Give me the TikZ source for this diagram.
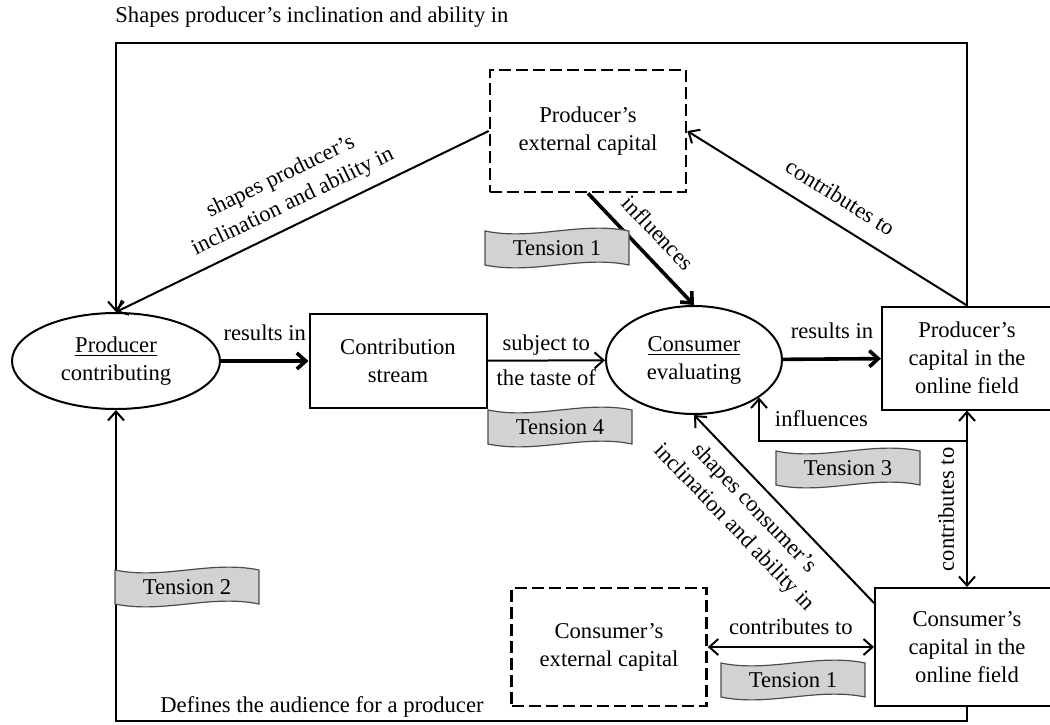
\documentclass[tikz,border=0pt]{standalone}
\usepackage{fontspec}
\setmainfont{Liberation Serif}
\usetikzlibrary{shapes.geometric,arrows.meta}

\tikzset{
  box/.style={draw, line width=1pt, align=center, inner sep=0pt},
  extbox/.style={box, dash pattern=on 6pt off 2.5pt, line width=1.3pt},
  oval/.style={ellipse, draw, line width=1pt, align=center, inner sep=0pt},
  arr/.style={-{Straight Barb[length=4.5pt,width=8pt]}, line width=1pt},
  backarr/.style={{Straight Barb[length=4.5pt,width=8pt]}-, line width=1pt},
  duoarr/.style={{Straight Barb[length=4.5pt,width=8pt]}-{Straight Barb[length=4.5pt,width=8pt]}, line width=1pt},
  boldarr/.style={arr, line width=1.8pt},
  lbl/.style={inner sep=1pt, align=center},
  flag/.style={fill=gray!35, draw=gray!60!black, line width=0.6pt}
}

%% wavy banner with a label
\newcommand{\tensionflag}[3]{%
  \begin{scope}[shift={#2}]
    \filldraw [flag] (-72,-17) .. controls (-24,-7) and (24,-27) .. (72,-17)
      -- (72,17) .. controls (24,7) and (-24,27) .. (-72,17) -- cycle;
    \node [lbl] (#1) at (0,0) {#3};
  \end{scope}}

\begin{document}
\begin{tikzpicture}[x=0.5pt, y=-0.5pt, font=\fontsize{11.3pt}{14pt}\selectfont]
            \useasboundingbox (0,0) rectangle (1050,724);

            %% noeuds principaux
            \node [oval, minimum width=104pt, minimum height=48pt] (prod) at (116,361) {\underline{Producer}\\contributing};
            \node [box, minimum width=88.5pt, minimum height=47pt] (stream) at (398,361) {Contribution\\stream};
            \node [oval, minimum width=88pt, minimum height=54pt] (cons) at (694,360) {\underline{Consumer}\\evaluating};
            \node [box, minimum width=85pt, minimum height=51.5pt] (pcap) at (967,358) {Producer's\\capital in the\\online field};
            \node [extbox, minimum width=98pt, minimum height=61pt] (pext) at (588,131) {Producer's\\external capital};
            \node [box, minimum width=92pt, minimum height=59pt] (ccap) at (967,647) {Consumer's\\capital in the\\online field};
            \node [extbox, minimum width=97.5pt, minimum height=59pt] (cext) at (609,647) {Consumer's\\external capital};

            %% cadre
            \coordinate (topleft) at (116,43);
            \coordinate (topright) at (967,43);
            \coordinate (botleft) at (116,721);
            \coordinate (botright) at (967,721);
            \draw [arr] (pcap.north) -- (topright) -- (topleft) -- (prod.north);
            \draw [arr] (ccap.south) -- (botright) -- (botleft) -- (prod.south);
            \node [anchor=base west, inner sep=0pt] (toptext) at (115,22) {Shapes producer's inclination and ability in};
            \node [anchor=base west, inner sep=0pt] (bottext) at (160,712) {Defines the audience for a producer};

            %% fleches
            \draw [boldarr] (prod) -- node [lbl, above=8pt] {results in} (stream);
            \draw [arr] (stream) -- node [lbl, above=1pt] {subject to} node [lbl, below=3pt] {the taste of} (cons);
            \draw [boldarr] (cons) -- node [lbl, above=8pt] {results in} (pcap);
            \draw [boldarr] (pext.south) -- node [lbl, sloped, above=6pt] {influences} (cons.north);
            \draw [arr] (pcap.north) -- node [lbl, sloped, above=7pt] {contributes to} (pext.east);
            \draw [arr] (pext.west) -- node [lbl, sloped, above=4pt] {shapes producer's\\inclination and ability in} (prod.north);
            \draw [backarr] (cons.south) -- node [lbl, sloped, below=4pt, pos=0.42] {shapes consumer's\\inclination and ability in} ([yshift=-8pt]ccap.north west);
            \draw [duoarr] (ccap.north) -- node [lbl, sloped, above=5pt, pos=0.44] {contributes to} (pcap.south);
            \draw [arr] ([yshift=-15pt]pcap.south) -| node [lbl, pos=0.35, above=5.5pt] {influences} (cons.-30);
            \draw [duoarr] (cext.east) -- node [lbl, above=4.5pt] {contributes to} (ccap.west);

            %% tensions
            \tensionflag{tensionA}{(557,248)}{Tension 1}
            \tensionflag{tensionD}{(560,427)}{Tension 4}
            \tensionflag{tensionC}{(848,468)}{Tension 3}
            \tensionflag{tensionB}{(187,587)}{Tension 2}
            \tensionflag{tensionE}{(793,680)}{Tension 1}
        \end{tikzpicture}
\end{document}
